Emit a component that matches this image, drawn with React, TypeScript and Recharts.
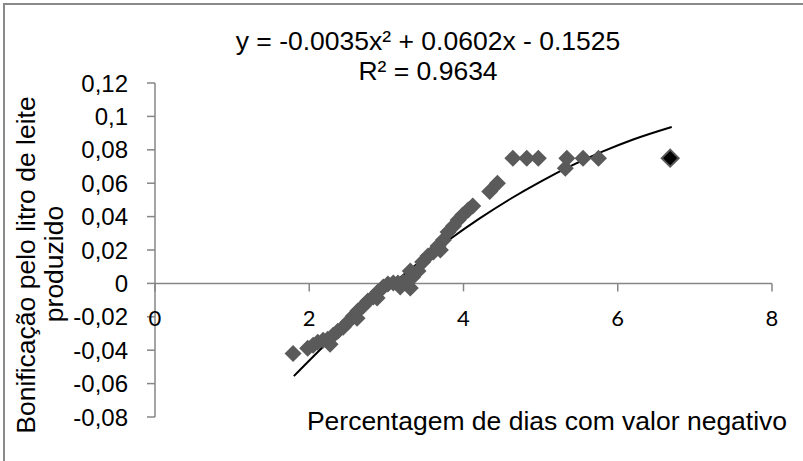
import React from 'react';
import { ComposedChart, Scatter, Line, XAxis, YAxis, ReferenceLine, Customized } from 'recharts';

// scatter points (% days with negative value, bonus per litre)
const pointX = [
  1.79, 1.98, 2.05, 2.11, 2.18, 2.24, 2.27, 2.31, 2.37, 2.44, 2.5, 2.57, 2.62, 2.63, 2.7, 2.76, 2.83,
  2.88, 2.89, 2.96, 3.02, 3.09, 3.15, 3.18, 3.22, 3.28, 3.31, 3.31, 3.34, 3.41, 3.47, 3.54, 3.61,
  3.67, 3.7, 3.74, 3.8, 3.87, 3.93, 3.99, 4.06, 4.12, 4.34, 4.44, 4.64, 4.82, 4.97, 5.32, 5.34, 5.55,
  5.75,
];
const pointY = [
  -0.042, -0.0388, -0.037, -0.0352, -0.034, -0.0334, -0.0364, -0.031, -0.0286, -0.0262, -0.0232,
  -0.0196, -0.0208, -0.0166, -0.0136, -0.0106, -0.0082, -0.0088, -0.0052, -0.0022, -0.0004, 0.0002,
  0.0002, -0.0022, 0.0008, 0.002, -0.0028, 0.0074, 0.0038, 0.0074, 0.0128, 0.0164, 0.0188, 0.0224,
  0.02, 0.026, 0.0308, 0.0344, 0.038, 0.041, 0.044, 0.0464, 0.055, 0.06, 0.075, 0.075, 0.075, 0.069,
  0.075, 0.075, 0.075,
];
const outlierX = [6.68];
const outlierY = [0.075];

// polynomial trendline as drawn
const trendX = [1.8, 2.2, 2.6, 3.0, 3.4, 3.8, 4.2, 4.6, 5.0, 5.4, 5.8, 6.2, 6.7];
const trendY = [-0.0555, -0.037, -0.0196, -0.0034, 0.0117, 0.0257, 0.0386, 0.0504, 0.061, 0.0705, 0.0789, 0.0862, 0.0937];

const xTicks = [0, 2, 4, 6, 8];
const yTicks = [-0.08, -0.06, -0.04, -0.02, 0, 0.02, 0.04, 0.06, 0.08, 0.1, 0.12];

const W = 803;
const H = 461;
const PLOT_TOP = 83;
const PLOT_BOTTOM = 417;
const Y_MIN = -0.08;
const Y_MAX = 0.12;
const ZERO_Y = PLOT_TOP + ((Y_MAX - 0) / (Y_MAX - Y_MIN)) * (PLOT_BOTTOM - PLOT_TOP);

const AXIS = '#868686';
const MARKER = '#5a5a5a';
const ARIAL = '"Liberation Sans", Arial, sans-serif';

const points = pointX.map((x, i) => ({ x, y: pointY[i] }));
const outlier = outlierX.map((x, i) => ({ x, y: outlierY[i] }));
const trend = trendX.map((x, i) => ({ x, y: trendY[i] }));

const Diamond = (props: any) => {
  const { cx, cy } = props;
  const r = 8.5;
  return <polygon points={`${cx},${cy - r} ${cx + r},${cy} ${cx},${cy + r} ${cx - r},${cy}`} fill={MARKER} />;
};

const BlackDiamond = (props: any) => {
  const { cx, cy } = props;
  const r = 8.5;
  return (
    <polygon
      points={`${cx},${cy - r} ${cx + r},${cy} ${cx},${cy + r} ${cx - r},${cy}`}
      fill="#000"
      stroke={MARKER}
      strokeWidth={2}
    />
  );
};

// x axis crosses at y = 0, so ticks are drawn on the zero line
const XTick = (props: any) => {
  const { x, payload } = props;
  return (
    <g>
      <line x1={x} x2={x} y1={ZERO_Y} y2={ZERO_Y + 8} stroke={AXIS} strokeWidth={1.5} />
      <text x={x} y={ZERO_Y + 43} textAnchor="middle" fontFamily="Lato, sans-serif" fontSize={22} fill="#000">
        {payload.value}
      </text>
    </g>
  );
};

const Texts = () => (
  <g>
    <rect x={4} y={4} width={830} height={490} fill="none" stroke="#8a8a8a" strokeWidth={2} />
    <text x={428} y={50} textAnchor="middle" fontFamily={ARIAL} fontSize={26.5} fill="#000">
      y = -0.0035x² + 0.0602x - 0.1525
    </text>
    <text x={428} y={80} textAnchor="middle" fontFamily={ARIAL} fontSize={26.5} fill="#000">
      R² = 0.9634
    </text>
    <text x={547} y={430} textAnchor="middle" fontFamily={ARIAL} fontSize={26.5} fill="#000">
      Percentagem de dias com valor negativo
    </text>
    <text transform="translate(35,265) rotate(-90)" textAnchor="middle" fontFamily={ARIAL} fontSize={26.5} fill="#000">
      Bonificação pelo litro de leite
    </text>
    <text transform="translate(63,264) rotate(-90)" textAnchor="middle" fontFamily={ARIAL} fontSize={26.5} fill="#000">
      produzido
    </text>
  </g>
);

export default function App() {
  return (
    <div style={{ position: 'absolute', left: 0, top: 0, width: W, height: H, overflow: 'hidden', background: '#fff' }}>
      <ComposedChart width={W} height={H} margin={{ top: PLOT_TOP, right: 31, bottom: H - PLOT_BOTTOM - 1, left: 75 }}>
        <XAxis
          type="number"
          dataKey="x"
          domain={[0, 8]}
          ticks={xTicks}
          axisLine={false}
          tickLine={false}
          tick={<XTick />}
          height={1}
          allowDataOverflow
        />
        <YAxis
          type="number"
          dataKey="y"
          domain={[Y_MIN, Y_MAX]}
          ticks={yTicks}
          width={80}
          tickSize={8}
          tickMargin={19}
          axisLine={{ stroke: AXIS, strokeWidth: 1.5 }}
          tickLine={{ stroke: AXIS, strokeWidth: 1.5 }}
          tick={{ fontSize: 24, fontFamily: ARIAL, fill: '#000' }}
          tickFormatter={(v: number) => String(v).replace('.', ',')}
          allowDataOverflow
        />
        <ReferenceLine y={0} stroke={AXIS} strokeWidth={1.5} />
        <Scatter data={points} dataKey="y" shape={<Diamond />} isAnimationActive={false} />
        <Scatter data={outlier} dataKey="y" shape={<BlackDiamond />} isAnimationActive={false} />
        <Line data={trend} dataKey="y" type="monotone" stroke="#000" strokeWidth={2} dot={false} isAnimationActive={false} />
        <Customized component={Texts} />
      </ComposedChart>
    </div>
  );
}
